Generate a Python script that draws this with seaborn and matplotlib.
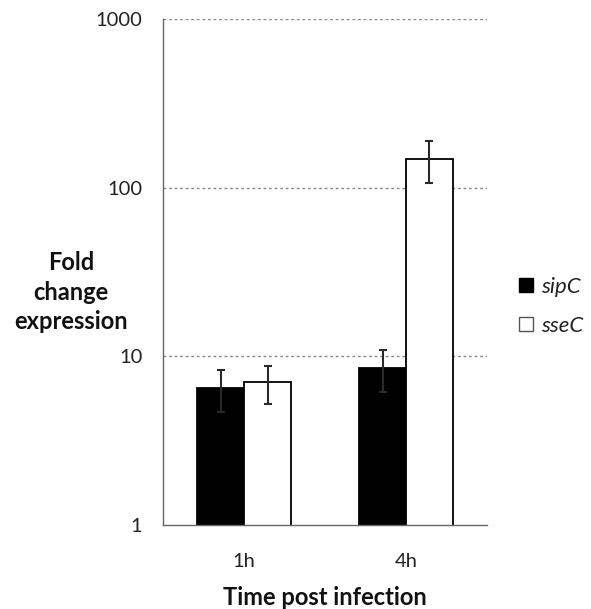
import matplotlib
matplotlib.use("Agg")
import matplotlib.pyplot as plt
import seaborn as sns
import pandas as pd
from matplotlib.patches import Patch

# values
times = ["1h", "4h"]
genes = ["sipC", "sseC"]
sipC = [6.5, 8.5]
sseC = [7.0, 148]
sipC_err = [1.8, 2.4]
sseC_err = [1.8, 42]

df = pd.DataFrame({
    "time": times * 2,
    "gene": [genes[0]] * 2 + [genes[1]] * 2,
    "fold": sipC + sseC,
    "err": sipC_err + sseC_err,
})

sns.set_style("white")
plt.rcParams["font.family"] = ["Lato", "DejaVu Sans"]

fig = plt.figure(figsize=(5.91, 6.09), dpi=100)
ax = fig.add_axes([0.276, 0.138, 0.548, 0.831])

sns.barplot(data=df, x="time", y="fold", hue="gene", palette=["black", "white"],
            edgecolor="black", linewidth=1.3, width=0.58, errorbar=None,
            legend=False, ax=ax)
ax.set_yscale("log")
ax.set_ylim(1, 1000)
ax.set_xlim(-0.5, 1.5)

# error bars at bar centres
bar_groups = list(ax.containers)[:2]
for g, bars in zip(genes, bar_groups):
    sub = df[df.gene == g]
    xs = [b.get_x() + b.get_width() / 2 for b in bars]
    ax.errorbar(xs, sub["fold"], yerr=sub["err"], fmt="none", ecolor="#2a2a2a",
                elinewidth=1.5, capsize=2.7, capthick=1.5, zorder=5)

ax.set_yticks([1, 10, 100, 1000])
ax.set_yticklabels(["1", "10", "100", "1000"])
ax.minorticks_off()
for y in [10, 100, 1000]:
    ax.axhline(y, color="#888888", linestyle=(0, (2, 2)), linewidth=1, zorder=0)

ax.set_xticks([0, 1])
ax.set_xticklabels(times)
ax.set_xticks([-0.5, 0.5, 1.5], minor=True)
ax.tick_params(axis="x", which="major", length=0, pad=20, labelsize=14.5,
               labelcolor="#222222")
ax.tick_params(axis="x", which="minor", length=5, direction="out", color="#666666")
ax.tick_params(axis="y", length=5, direction="out", color="#666666", labelsize=14.5,
               pad=10, labelcolor="#222222")

sns.despine(ax=ax, top=True, right=True)
for s in ["left", "bottom"]:
    ax.spines[s].set_color("#666666")
    ax.spines[s].set_linewidth(1)

ax.set_xlabel("Time post infection", fontsize=17, fontweight="bold", labelpad=12,
              color="#111111")
ax.set_ylabel("Fold\nchange\nexpression", fontsize=17, fontweight="bold",
              rotation=0, ha="center", va="center", labelpad=0, color="#111111",
              linespacing=1.35)
ax.yaxis.set_label_coords(-0.284, 0.46)

handles = [Patch(facecolor="black", edgecolor="black", label="sipC"),
           Patch(facecolor="white", edgecolor="#555555", label="sseC")]
leg = fig.legend(handles=handles, loc="center left", bbox_to_anchor=(0.879, 0.497),
                 frameon=False, fontsize=16, handlelength=0.6, handleheight=0.6,
                 handletextpad=0.36, labelspacing=0.85, borderpad=0, borderaxespad=0)
for t in leg.get_texts():
    t.set_fontstyle("italic")
    t.set_color("#222222")

plt.savefig("out.png", dpi=100)
